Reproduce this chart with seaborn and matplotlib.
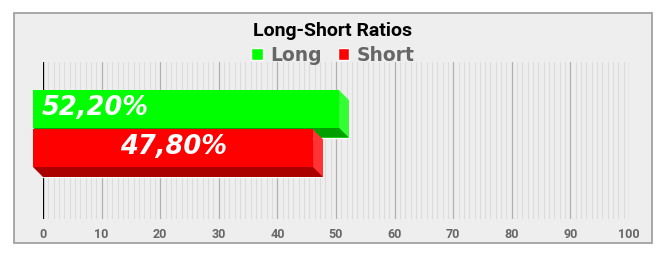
import matplotlib
matplotlib.use("Agg")
import matplotlib.pyplot as plt
import seaborn as sns
import pandas as pd
from matplotlib.patches import Rectangle, Polygon
from matplotlib.transforms import IdentityTransform
from matplotlib.ticker import MultipleLocator

# ---- data ----
series = ["Long", "Short"]
values = [52.20, 47.80]
category = ["Ratio", "Ratio"]
front_colors = ["#00ff00", "#ff0000"]
side_colors = ["#33ff33", "#ff3333"]
bottom_colors = ["#00a000", "#aa0000"]
x_ticks = [0, 10, 20, 30, 40, 50, 60, 70, 80, 90, 100]
title = "Long-Short Ratios"

df = pd.DataFrame({"cat": category, "series": series, "value": values})

sns.set_theme(style="white")
W, H = 663, 260
fig = plt.figure(figsize=(W / 100, H / 100), dpi=100, facecolor="white")

# outer frame
frame = Rectangle((14 / W, 1 - 243 / H), (652 - 14) / W, (243 - 13) / H,
                  transform=fig.transFigure, facecolor="#eeeeee",
                  edgecolor="#9a9a9a", linewidth=1.2, zorder=-10)
fig.add_artist(frame)

ax = fig.add_axes([43 / W, 1 - 219 / H, 586 / W, 157 / H])
ax.set_facecolor("none")

sns.barplot(data=df, x="value", y="cat", hue="series", hue_order=series,
            palette=front_colors, orient="h", width=0.5, gap=0.05,
            saturation=1, ax=ax, legend=True, zorder=2)

ax.set_xlim(0, 100)
ax.set_ylim(0.5094, -0.4842)
ax.set_xticks(x_ticks)
ax.xaxis.set_minor_locator(MultipleLocator(10 / 11))
ax.set_yticks([])
ax.set_xlabel("")
ax.set_ylabel("")
for s in ax.spines.values():
    s.set_visible(False)
ax.grid(True, which="major", axis="x", color="#b0b0b0", linewidth=0.9, zorder=0)
ax.grid(True, which="minor", axis="x", color="#dcdcdc", linewidth=0.8, zorder=0)
ax.set_axisbelow(True)
ax.axvline(0, color="black", linewidth=0.9, zorder=1)
ax.tick_params(axis="x", which="both", length=0, pad=6.5, labelsize=9,
               labelcolor="#666666")
for lbl in ax.get_xticklabels():
    lbl.set_fontfamily("Roboto")
    lbl.set_fontweight("bold")

# 3D faces
d = 10
bars = [p for p in ax.patches if isinstance(p, Rectangle) and p.get_width() > 0]
bars = sorted(bars, key=lambda p: p.get_y())
for i, p in enumerate(bars):
    x0, y0 = p.get_x(), p.get_y()
    x1, y1 = x0 + p.get_width(), y0 + p.get_height()
    (bx0, by_top), (bx1, by_bot) = ax.transData.transform([(x0, y0), (x1, y1)])
    z = 3 + i
    front = Polygon([(bx0 - d, by_bot + d), (bx1 - d, by_bot + d),
                     (bx1 - d, by_top + d), (bx0 - d, by_top + d)],
                    closed=True, transform=IdentityTransform(), clip_on=False,
                    facecolor=front_colors[i], edgecolor="none", zorder=z + 0.2)
    side = Polygon([(bx1 - d, by_top + d), (bx1, by_top), (bx1, by_bot),
                    (bx1 - d, by_bot + d)],
                   closed=True, transform=IdentityTransform(), clip_on=False,
                   facecolor=side_colors[i], edgecolor="none", zorder=z + 0.1)
    bottom = Polygon([(bx0 - d, by_bot + d), (bx1 - d, by_bot + d),
                      (bx1, by_bot), (bx0, by_bot)],
                     closed=True, transform=IdentityTransform(), clip_on=False,
                     facecolor=bottom_colors[i], edgecolor="none", zorder=z)
    for poly in (bottom, side, front):
        fig.add_artist(poly)
    label = f"{values[i]:.2f}%".replace(".", ",")
    cy = (by_top + by_bot) / 2 + d + 1
    if i == 0:
        tx, ha = bx0 - d + 9, "left"
    else:
        tx, ha = (bx0 + bx1) / 2 - d, "center"
    fig.text(tx / W, cy / H, label, ha=ha, va="center", color="white",
             fontsize=18.5, fontweight="bold", fontstyle="italic",
             family="DejaVu Sans", zorder=10)

# legend
handles, labels = ax.get_legend_handles_labels()
ax.legend(handles, labels, ncol=2, loc="center",
          bbox_to_anchor=(333 / W, 1 - 55.5 / H), bbox_transform=fig.transFigure,
          frameon=False, handlelength=0.62, handleheight=0.62,
          handletextpad=0.4, columnspacing=0.85, borderpad=0,
          prop={"family": "DejaVu Sans", "weight": "bold", "size": 13.5},
          labelcolor="#666666")

fig.text(333 / W, 1 - 35.5 / H, title, ha="center", va="baseline",
         fontsize=14, family="Roboto", fontweight="bold", color="black")

fig.savefig("out.png", dpi=100, facecolor="white")
